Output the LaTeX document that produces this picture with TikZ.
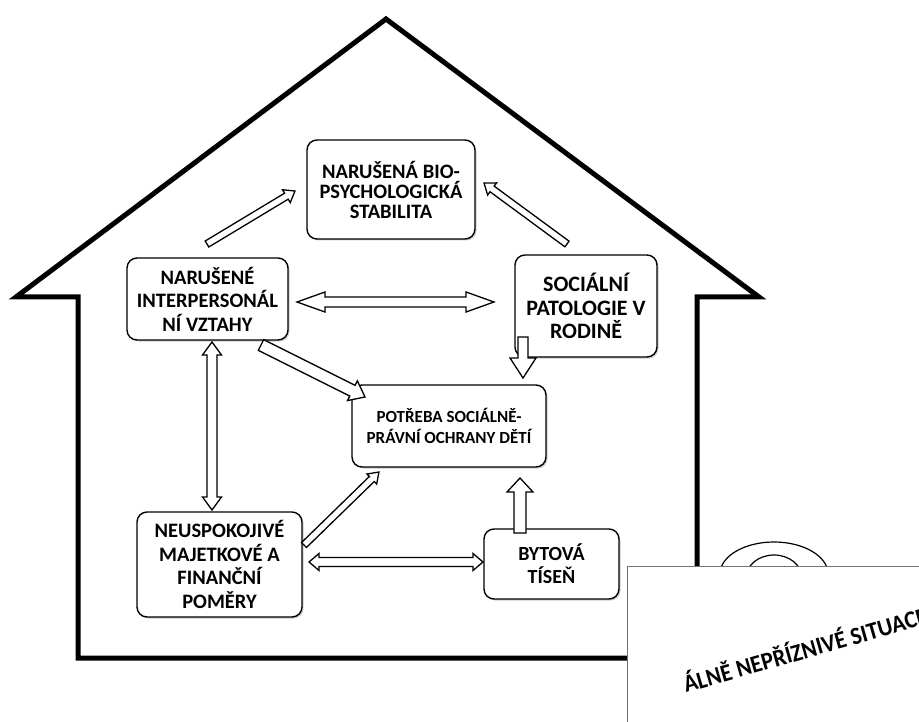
\documentclass[tikz,border=0pt]{standalone}
\usepackage{fontspec}
\setmainfont{Carlito}
\usetikzlibrary{calc,shadows}

% hollow block arrows between two named points
\newcommand{\blockarrow}[5]{%
  \path let \p1=($(#2)-(#1)$) in \pgfextra{\pgfmathparse{atan2(\y1,\x1)}\xdef\arrang{\pgfmathresult}%
    \pgfmathparse{veclen(\x1,\y1)}\xdef\arrlen{\pgfmathresult}};
  \begin{scope}[shift={(#1)}, rotate=\arrang]
    \draw[arrow_style] (0pt,#3pt) -- ({(\arrlen-#5)*1pt},#3pt) -- ({(\arrlen-#5)*1pt},#4pt) -- ({\arrlen*1pt},0pt)
      -- ({(\arrlen-#5)*1pt},-#4pt) -- ({(\arrlen-#5)*1pt},-#3pt) -- (0pt,-#3pt) -- cycle;
  \end{scope}}
\newcommand{\dblockarrow}[5]{%
  \path let \p1=($(#2)-(#1)$) in \pgfextra{\pgfmathparse{atan2(\y1,\x1)}\xdef\arrang{\pgfmathresult}%
    \pgfmathparse{veclen(\x1,\y1)}\xdef\arrlen{\pgfmathresult}};
  \begin{scope}[shift={(#1)}, rotate=\arrang]
    \draw[arrow_style] (0pt,0pt) -- (#5pt,#4pt) -- (#5pt,#3pt) -- ({(\arrlen-#5)*1pt},#3pt) -- ({(\arrlen-#5)*1pt},#4pt)
      -- ({\arrlen*1pt},0pt) -- ({(\arrlen-#5)*1pt},-#4pt) -- ({(\arrlen-#5)*1pt},-#3pt) -- (#5pt,-#3pt) -- (#5pt,-#4pt) -- cycle;
  \end{scope}}

\begin{document}
\begin{tikzpicture}[x=1pt, y=-1pt,
    house_style/.style={line width=5pt, line join=miter},
    box_style/.style={draw=black, line width=1.4pt, rounded corners=10pt, fill=white, align=center, inner sep=2pt,
      font=\fontsize{20.5}{23.5}\selectfont\bfseries,
      drop shadow={shadow xshift=1.5pt, shadow yshift=-1.5pt, fill=black!40}},
    arrow_style/.style={draw=black, fill=white, line width=1.3pt, line join=miter}]
  \useasboundingbox (0,0) rectangle (919,722);
  \clip (0,0) rectangle (919,722);
  % house
  \draw[house_style] (78,658) -- (78,297) -- (16,297) -- (386,19) -- (759,297) -- (697,297) -- (697,658) -- cycle;
  \draw[line width=1.2pt] (774,574) ellipse [x radius=54, y radius=32];
  \draw[line width=1.2pt] (774,578) ellipse [x radius=28, y radius=23];
  % sheet over the corner
  \draw[draw=black!55, line width=0.8pt, fill=white] (627,566) rectangle (940,740);
  \node[rotate=16, xscale=0.93, anchor=base west, inner sep=0pt, font=\fontsize{24.5}{24}\selectfont\bfseries] (situace) at (686,693) {ÁLNĚ NEPŘÍZNIVÉ SITUACE};

  \node[box_style, minimum width=168pt, minimum height=99pt, font=\fontsize{20.5}{20}\selectfont\bfseries] (bio) at (391,189.5) {NARUŠENÁ BIO-\\PSYCHOLOGICKÁ\\STABILITA};
  \node[box_style, minimum width=161pt, minimum height=82pt] (interp) at (207.5,299) {NARUŠENÉ\\INTERPERSONÁL\\NÍ VZTAHY};
  \node[box_style, minimum width=142pt, minimum height=102pt, font=\fontsize{22}{23.5}\selectfont\bfseries] (soc) at (586,306) {SOCIÁLNÍ\\PATOLOGIE V\\RODINĚ};
  \node[box_style, minimum width=194pt, minimum height=82pt, font=\fontsize{17}{21.5}\selectfont\bfseries] (ochrana) at (449,426) {POTŘEBA SOCIÁLNĚ-\\PRÁVNÍ OCHRANY DĚTÍ};
  \node[box_style, minimum width=165pt, minimum height=105pt] (finance) at (219.5,564.5) {NEUSPOKOJIVÉ\\MAJETKOVÉ A\\FINANČNÍ\\POMĚRY};
  \node[box_style, minimum width=135pt, minimum height=70pt, font=\fontsize{20}{23}\selectfont\bfseries] (byt) at (551.5,564) {BYTOVÁ\\TÍSEŇ};

  \coordinate (interp_bio_s) at (207,244);  \coordinate (interp_bio_e) at (295,191);
  \coordinate (soc_bio_s) at (567,244);     \coordinate (soc_bio_e) at (484,183);
  \coordinate (interp_soc_s) at (297,302);  \coordinate (interp_soc_e) at (494,302);
  \coordinate (interp_och_s) at (261,345);  \coordinate (interp_och_e) at (365,397);
  \coordinate (soc_och_s) at (523,337);     \coordinate (soc_och_e) at (523,378);
  \coordinate (interp_fin_s) at (212,342);  \coordinate (interp_fin_e) at (212,510);
  \coordinate (fin_och_s) at (304,545);     \coordinate (fin_och_e) at (379,472);
  \coordinate (fin_byt_s) at (309,562);     \coordinate (fin_byt_e) at (483,562);
  \coordinate (byt_och_s) at (520,533);     \coordinate (byt_och_e) at (520,478);

  \blockarrow{interp_bio_s}{interp_bio_e}{3.5}{7.5}{10}
  \blockarrow{soc_bio_s}{soc_bio_e}{3.5}{7.5}{10}
  \dblockarrow{interp_soc_s}{interp_soc_e}{5}{10}{28}
  \blockarrow{interp_och_s}{interp_och_e}{6}{11}{14}
  \blockarrow{soc_och_s}{soc_och_e}{5}{13}{20}
  \dblockarrow{interp_fin_s}{interp_fin_e}{5}{9.5}{13}
  \blockarrow{fin_och_s}{fin_och_e}{3.5}{7}{10}
  \dblockarrow{fin_byt_s}{fin_byt_e}{4.5}{8.5}{10}
  \blockarrow{byt_och_s}{byt_och_e}{6}{13}{14}
\end{tikzpicture}
\end{document}
